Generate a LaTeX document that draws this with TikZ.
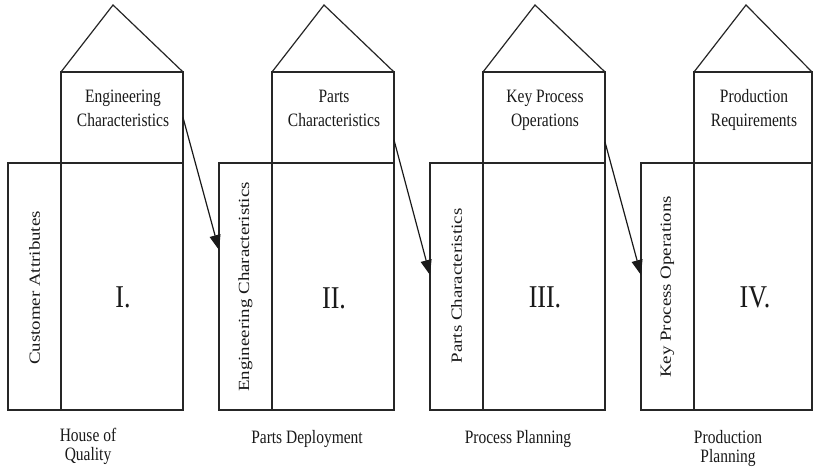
\documentclass[tikz,border=0pt]{standalone}
\usepackage{fontspec}
\setmainfont{Liberation Serif}
\usetikzlibrary{arrows.meta}
% text is set a little taller than wide
\newcommand\tallbox[1]{\scalebox{1}[1.22]{#1}}
\newcommand\longbox[1]{\scalebox{1.22}[1]{#1}}
\newcommand\twolines[2]{\begin{tabular}{@{}c@{}}#1\\#2\end{tabular}}
\begin{document}
\begin{tikzpicture}[x=1pt,y=-1pt,
  frame/.style={draw=black!85,line width=1.2pt,inner sep=0pt,outer sep=0pt,anchor=north west},
  edge/.style={draw=black!85,line width=1.2pt,line join=miter},
  flow/.style={draw=black!90,line width=1.2pt,-{Triangle[length=15pt,width=11pt]}},
  toplabel/.style={inner sep=0pt,text=black!90,font=\fontsize{15.5}{19.7}\selectfont},
  sidelabel/.style={inner sep=0pt,rotate=90,text=black!90,font=\fontsize{15.5}{18}\selectfont},
  numeral/.style={inner sep=0pt,text=black!90,font=\fontsize{26}{30}\selectfont},
  caption/.style={inner sep=0pt,text=black!90,font=\fontsize{15.5}{15.5}\selectfont}]
\useasboundingbox[fill=white] (0,0) rectangle (813,470);

% ---------- houses: side column, body, upper room, roof ----------
\foreach \i/\x/\w in {1/8/175, 2/219/175, 3/430/175, 4/641/171}{
  \pgfmathsetmacro\bw{\w-53}
  \node[frame,minimum width=53pt,minimum height=247pt] (col\i) at (\x,163) {};
  \node[frame,minimum width=\bw pt,minimum height=247pt] (body\i) at (\x+53,163) {};
  \node[frame,minimum width=\bw pt,minimum height=91pt] (top\i) at (\x+53,72) {};
  \coordinate (apex\i) at (\x+105,5);
  \draw[edge] (top\i.north west) -- (apex\i) -- (top\i.north east);
}

% ---------- upper room labels ----------
\node[toplabel] (t1) at (123,110) {\tallbox{\twolines{Engineering}{Characteristics}}};
\node[toplabel] (t2) at (334,110) {\tallbox{\twolines{Parts}{Characteristics}}};
\node[toplabel] (t3) at (545,110) {\tallbox{\twolines{Key Process}{Operations}}};
\node[toplabel] (t4) at (754,110) {\tallbox{\twolines{Production}{Requirements}}};

% ---------- side column labels ----------
\node[sidelabel] (s1) at (34.5,288) {\longbox{Customer Attributes}};
\node[sidelabel] (s2) at (245.5,287) {\longbox{Engineering Characteristics}};
\node[sidelabel] (s3) at (456.5,286) {\longbox{Parts Characteristics}};
\node[sidelabel] (s4) at (667.5,287) {\longbox{Key Process Operations}};

% ---------- phase numbers ----------
\node[numeral] (n1) at (123,297) {\tallbox{I.}};
\node[numeral] (n2) at (334,298) {\tallbox{II.}};
\node[numeral] (n3) at (545,297) {\tallbox{III.}};
\node[numeral] (n4) at (755,297) {\tallbox{IV.}};

% ---------- phase names ----------
\node[caption] (c1) at (88,447) {\tallbox{\twolines{House of}{Quality}}};
\node[caption,anchor=base] (c2) at (307,443) {\tallbox{Parts Deployment}};
\node[caption,anchor=base] (c3) at (518,443) {\tallbox{Process Planning}};
\node[caption] (c4) at (728,449) {\tallbox{\twolines{Production}{Planning}}};

% ---------- hand-over arrows ----------
\draw[flow] (top1.east) -- ([yshift=36.5pt]col2.west);
\draw[flow] ([yshift=-22.5pt]top2.east) -- ([yshift=11.5pt]col3.west);
\draw[flow] ([yshift=-24.5pt]top3.east) -- ([yshift=11.5pt]col4.west);
\end{tikzpicture}
\end{document}
